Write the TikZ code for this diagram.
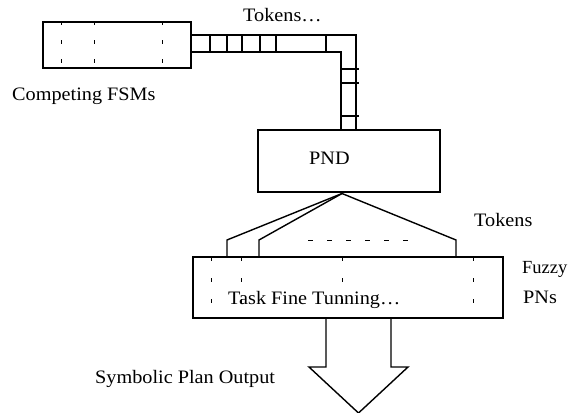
\documentclass[tikz,border=0pt]{standalone}
\usepackage{fontspec}
\setmainfont{Liberation Serif}[FakeStretch=1.065]
\newfontfamily\tightserif{Liberation Serif}
\begin{document}
\begin{tikzpicture}[x=1pt,y=-1pt,line join=miter,
  box/.style={draw,line width=1.4pt,inner sep=0pt,outer sep=0pt,anchor=north west},
  wire/.style={line width=1.4pt},
  thinwire/.style={line width=1.2pt},
  tick/.style={line width=0.9pt,dash pattern=on 3.5pt off 15pt},
  fticks/.style={line width=0.9pt,dash pattern=on 4pt off 17pt},
  lbl/.style={anchor=base west,inner sep=0pt,font=\fontsize{19}{21}\selectfont}]
\useasboundingbox (0,0) rectangle (569,412);

% competing finite state machines
\node[box,minimum width=148pt,minimum height=46pt] (fsm) at (43,22) {};
\foreach \x in {61,94,162}
  \draw[tick] (\x,22) -- (\x,68);

% token queue: horizontal run, corner, vertical run down to the PND
\coordinate (qtl) at (191,35);
\coordinate (qtr) at (356,35);
\coordinate (qbl) at (191,52);
\coordinate (qin) at (341,52);
\draw[thinwire] (qtl) -- (qtr) -- (356,130);
\draw[thinwire] (qbl) -- (qin) -- (341,130);
\foreach \x in {210,227,242,260,276,326}
  \draw[thinwire] (\x,35) -- (\x,52);
\foreach \y in {69,83,116}
  \draw[thinwire] (341,\y) -- (359,\y);

% Petri net dispatcher
\node[box,minimum width=182pt,minimum height=62pt] (pnd) at (258,130) {};
\node[lbl] at (309,164) {PND};

% fuzzy Petri nets
\node[box,minimum width=310pt,minimum height=61pt] (fuzzy) at (193,257) {};
\foreach \x in {211,241,342,473}
  \draw[fticks] (\x,257) -- (\x,318);

% token fan-out from the PND to the fuzzy nets
\coordinate (apex) at (342,193.5);
\coordinate (f1) at (227,240);
\coordinate (f2) at (259,240);
\coordinate (f3) at (456,240);
\foreach \f in {f1,f2,f3}
  \draw[wire] (apex) -- (\f) -- (\f |- fuzzy.north);
\draw[line width=1pt,dash pattern=on 5pt off 14pt] (308,240) -- (408,240);

% output arrow
\draw[wire] (326,318) -- (326,367) -- (309,367) -- (358.5,413) -- (408,367) -- (391,367) -- (391,318);

% labels
\node[lbl] (tq) at (243,22) {Tokens…};
\node[lbl] (tf) at (12,100) {Competing FSMs};
\node[lbl] (tt) at (474,226) {Tokens};
\node[lbl,font=\tightserif\fontsize{18.5}{21}\selectfont] (tz) at (522,273) {Fuzzy};
\node[lbl] (tp) at (523,303) {PNs};
\node[lbl] (tk) at (228,304) {Task Fine Tunning…};
\node[lbl] (ts) at (95,383) {Symbolic Plan Output};
\end{tikzpicture}
\end{document}
